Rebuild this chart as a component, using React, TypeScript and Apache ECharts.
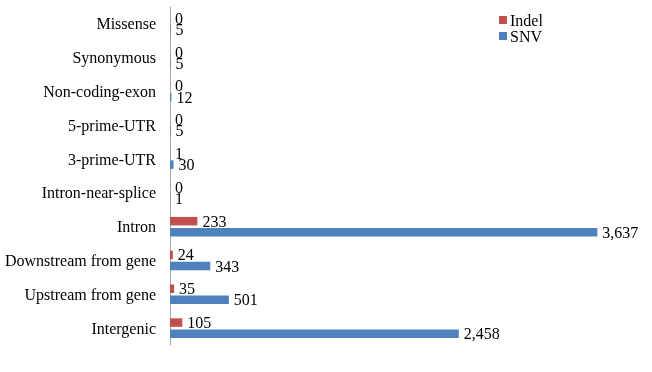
import React, { useEffect, useRef } from "react";
import * as echarts from "echarts";

const categories = [
  "Intergenic",
  "Upstream from gene",
  "Downstream from gene",
  "Intron",
  "Intron-near-splice",
  "3-prime-UTR",
  "5-prime-UTR",
  "Non-coding-exon",
  "Synonymous",
  "Missense",
];
const indelValues = [105, 35, 24, 233, 0, 1, 0, 0, 0, 0];
const snvValues = [2458, 501, 343, 3637, 1, 30, 5, 12, 5, 5];

const FONT = "Liberation Serif";

export default function App() {
  const ref = useRef<HTMLDivElement>(null);
  useEffect(() => {
    if (!ref.current) return;
    const chart = echarts.init(ref.current, undefined, { renderer: "svg" });
    const labelCfg = {
      show: true,
      position: "right" as const,
      distance: 5,
      color: "#000",
      fontFamily: FONT,
      fontSize: 16,
      formatter: (p: any) => Number(p.value).toLocaleString("en-US"),
    };
    chart.setOption({
      animation: false,
      textStyle: { fontFamily: FONT },
      legend: {
        orient: "vertical",
        left: 499,
        top: 12,
        padding: 0,
        itemWidth: 8,
        itemHeight: 8,
        itemGap: 0,
        icon: "rect",
        textStyle: { fontFamily: FONT, fontSize: 16, color: "#000", padding: [0, 0, 0, -2] },
        data: ["Indel", "SNV"],
      },
      grid: { left: 170, right: 12, top: 7, bottom: 27 },
      xAxis: {
        type: "value",
        min: 0,
        max: 4000,
        show: false,
      },
      yAxis: {
        type: "category",
        data: categories,
        axisLine: { show: true, lineStyle: { color: "#a6a6a6", width: 1 } },
        axisTick: { show: false },
        axisLabel: {
          margin: 14,
          fontFamily: FONT,
          fontSize: 16,
          color: "#000",
        },
      },
      series: [
        {
          name: "Indel",
          type: "bar",
          data: indelValues,
          barWidth: 8.5,
          barGap: "30%",
          itemStyle: { color: "#C0504D" },
          label: labelCfg,
        },
        {
          name: "SNV",
          type: "bar",
          data: snvValues,
          barWidth: 8.5,
          barGap: "30%",
          itemStyle: { color: "#4F81BD" },
          label: labelCfg,
        },
      ],
    });
    return () => chart.dispose();
  }, []);
  return (
    <div
      ref={ref}
      style={{ position: "fixed", left: 0, top: 0, width: 652, height: 372 }}
    />
  );
}
